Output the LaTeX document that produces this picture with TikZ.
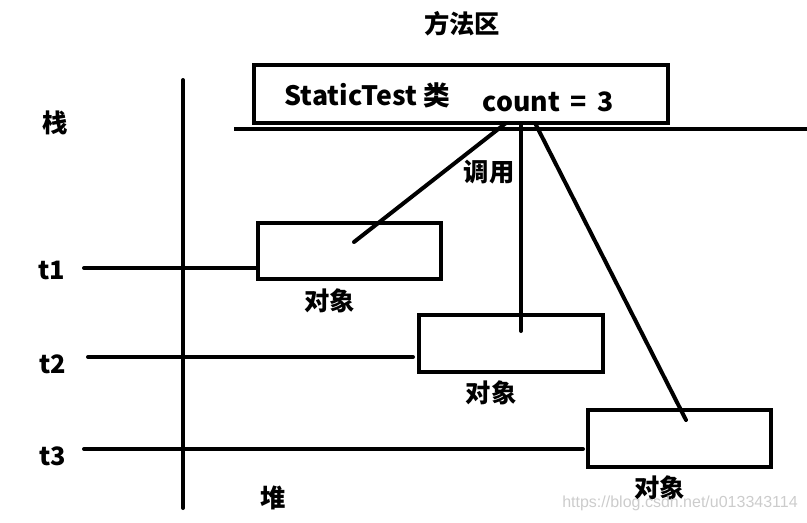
\documentclass[tikz,border=0pt]{standalone}
\usepackage{fontspec}
\usepackage{tikz}
\usetikzlibrary{positioning}
\newfontfamily\cjkfont{Noto Sans CJK SC}
\newfontfamily\wmfont{Liberation Sans}

\begin{document}
\begin{tikzpicture}[
    x=0.75pt, y=-0.75pt,
    ln/.style={line width=3pt, line cap=round},
    objbox/.style={draw, line width=3pt, inner sep=0pt, minimum width=137.5pt, minimum height=42.5pt},
    classbox/.style={draw, line width=3pt, inner sep=0pt, minimum width=310.5pt, minimum height=43.5pt},
    lbl/.style={font=\cjkfont\bfseries\fontsize{19}{22}\selectfont, inner sep=1pt},
    biglbl/.style={lbl, font=\cjkfont\bfseries\fontsize{20}{23}\selectfont}
]
\useasboundingbox (0,0) rectangle (807,522);

% --- Method area ---
\node[lbl] (area) at (462,24) {方法区};
\node[classbox] (cls) at (461,94) {};
\node[biglbl, anchor=west] (clsname) at (283,95) {StaticTest 类};
\node[biglbl] (count) at (548,102) {count \,=\, 3};

% --- Divider and stack axis ---
\coordinate (divl) at (234,129);
\coordinate (divr) at (807,129);
\draw[ln, line cap=butt] (divl) -- (divr);
\coordinate (axtop) at (183,80);
\coordinate (axbot) at (183,508);
\draw[ln] (axtop) -- (axbot);

\node[lbl] (stack) at (55,123) {栈};
\node[lbl] (heap)  at (273,498) {堆};
\node[lbl] (call)  at (489,172) {调用};

% --- Objects on the heap ---
\node[objbox] (obj1) at (349.5,251) {};
\node[objbox] (obj2) at (511,343.5) {};
\node[objbox] (obj3) at (679.5,438.5) {};

\node[lbl, below=4pt of obj1, xshift=-15pt] (lab1) {对象};
\node[lbl, below=4pt of obj2, xshift=-15pt] (lab2) {对象};
\node[lbl, below=4pt of obj3, xshift=-15pt] (lab3) {对象};

% --- Threads ---
\node[lbl] (t1) at (52,270) {t1};
\node[lbl] (t2) at (53,364) {t2};
\node[lbl] (t3) at (53,456) {t3};

\coordinate (r1a) at (84,268);
\coordinate (r2a) at (88,357);
\coordinate (r2b) at (413,357);
\coordinate (r3a) at (84,449);
\coordinate (r3b) at (583,449);
\draw[ln] (r1a) -- (r1a -| obj1.west);
\draw[ln] (r2a) -- (r2b);
\draw[ln] (r3a) -- (r3b);

% --- Calls to count ---
\coordinate (c1) at (506,123);
\coordinate (c2) at (521,123);
\coordinate (c3) at (535,123);
\coordinate (h1) at (354,242);
\coordinate (h2) at (521,331);
\coordinate (h3) at (686,420);
\draw[ln] (c1) -- (h1);
\draw[ln] (c2) -- (h2);
\draw[ln] (c3) -- (h3);

% --- Watermark ---
\node[font=\wmfont\fontsize{12}{14}\selectfont, text=black!20] (wm) at (680,503) {https://blog.csdn.net/u013343114};

\end{tikzpicture}
\end{document}
